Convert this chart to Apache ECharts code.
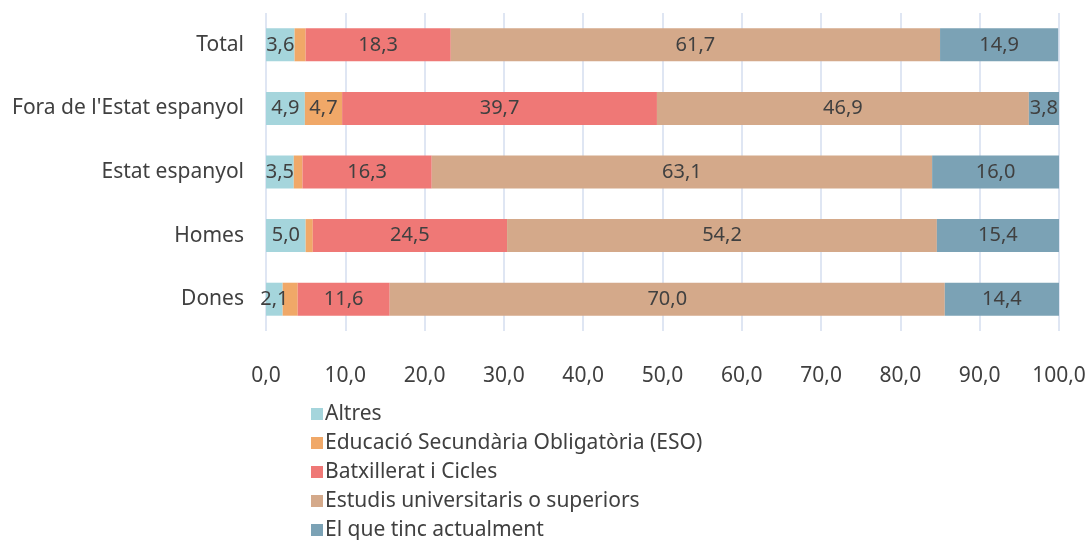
<!DOCTYPE html>
<html>
<head>
<meta charset="utf-8">
<script src="https://cdn.jsdelivr.net/npm/echarts@6/dist/echarts.min.js"></script>
<style>
html, body { margin: 0; padding: 0; background: #fff; }
#chart { width: 1089px; height: 540px; }
</style>
</head>
<body>
<div id="chart"></div>
<script>
const categories = ['Total', "Fora de l'Estat espanyol", 'Estat espanyol', 'Homes', 'Dones'];
const altres = [3.6, 4.9, 3.5, 5.0, 2.1];
const eso = [1.4, 4.7, 1.1, 0.9, 1.9];
const batxillerat = [18.3, 39.7, 16.3, 24.5, 11.6];
const estudis = [61.7, 46.9, 63.1, 54.2, 70.0];
const actual = [14.9, 3.8, 16.0, 15.4, 14.4];
const xTicks = [0, 10, 20, 30, 40, 50, 60, 70, 80, 90, 100];

const seriesDefs = [
    { name: 'Altres', data: altres, color: '#a5d5dc' },
    { name: 'Educació Secundària Obligatòria (ESO)', data: eso, color: '#f0a868' },
    { name: 'Batxillerat i Cicles', data: batxillerat, color: '#ef7876' },
    { name: 'Estudis universitaris o superiors', data: estudis, color: '#d4a98a' },
    { name: 'El que tinc actualment', data: actual, color: '#7ba2b5' }
];

const fmt = v => v.toFixed(1).replace('.', ',');
const font = 'Noto Sans';

const chart = echarts.init(document.getElementById('chart'));
chart.setOption({
    animation: false,
    textStyle: { fontFamily: font },
    grid: { left: 266, right: 30, top: 13, height: 318 },
    legend: {
        orient: 'vertical',
        left: 306,
        top: 398,
        height: 150,
        itemWidth: 12,
        itemHeight: 12,
        itemGap: 7,
        icon: 'rect',
        textStyle: { color: '#404040', fontSize: 21, lineHeight: 22, fontFamily: font, padding: [0, 0, 0, -3] },
        data: seriesDefs.map(s => s.name)
    },
    xAxis: {
        type: 'value',
        min: 0,
        max: 100,
        interval: 10,
        axisLine: { show: false },
        axisTick: { show: false },
        splitLine: { show: true, lineStyle: { color: '#d5deef', width: 1.5 } },
        axisLabel: {
            margin: 35,
            color: '#404040',
            fontSize: 21,
            formatter: v => xTicks.includes(v) ? fmt(v) : ''
        }
    },
    yAxis: {
        type: 'category',
        inverse: true,
        data: categories,
        axisLine: { show: false },
        axisTick: { show: false },
        axisLabel: { margin: 22, color: '#404040', fontSize: 21 }
    },
    series: seriesDefs.map(s => ({
        name: s.name,
        type: 'bar',
        stack: 'total',
        barWidth: 33,
        itemStyle: { color: s.color },
        label: {
            show: true,
            position: 'inside',
            color: '#404040',
            fontSize: 20,
            formatter: p => fmt(p.value)
        },
        labelLayout: { hideOverlap: false },
        data: s.data.map(v => v >= 2 ? v : { value: v, label: { show: false } })
    }))
});
</script>
</body>
</html>
